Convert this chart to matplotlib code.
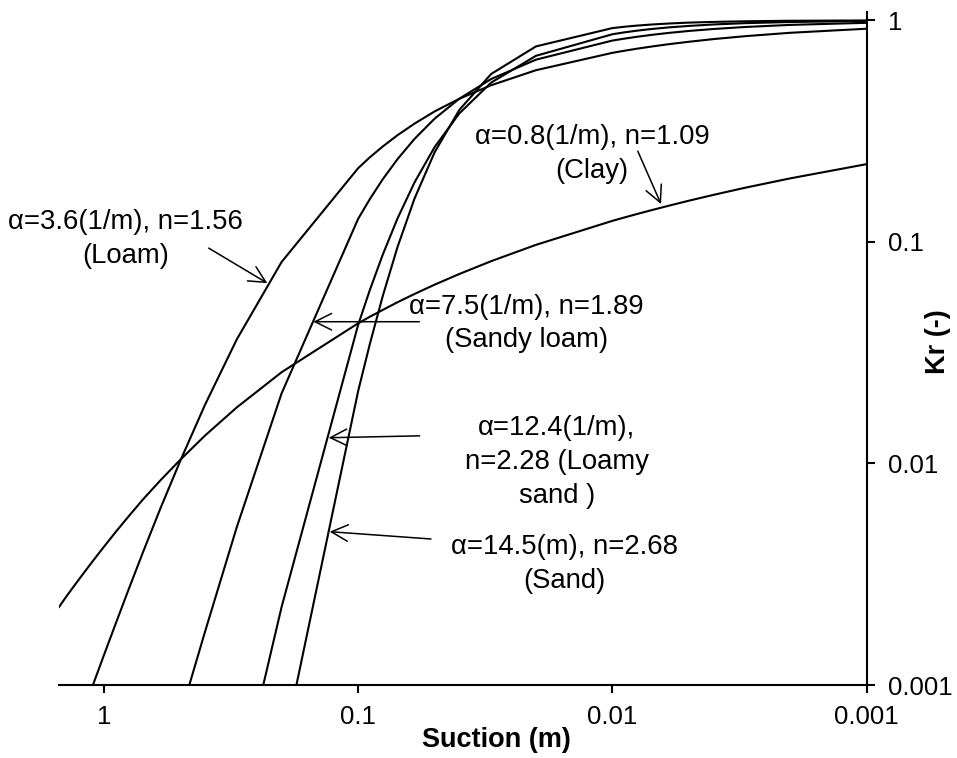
import matplotlib
matplotlib.use("Agg")
import matplotlib.pyplot as plt
from matplotlib.ticker import FixedLocator, NullLocator, FixedFormatter

plt.rcParams['font.family'] = ['Liberation Sans', 'DejaVu Sans']

# ---- data (suction in m, relative permeability Kr) ----
clay_s = [1.5, 1.4, 1.3, 1.2, 1.1, 1.0, 0.9, 0.8, 0.7, 0.6, 0.5, 0.4, 0.3, 0.2, 0.1,
          0.09, 0.08, 0.07, 0.06, 0.05, 0.04, 0.03, 0.02, 0.01,
          0.009, 0.008, 0.007, 0.006, 0.005, 0.004, 0.003, 0.002, 0.001]
clay_kr = [0.00225, 0.00252, 0.00283, 0.0032, 0.00365, 0.0042, 0.00489, 0.00576, 0.0069,
           0.00837, 0.0104, 0.01336, 0.0179, 0.0258, 0.0429,
           0.0459, 0.0493, 0.0534, 0.0582, 0.0641, 0.0716, 0.0818, 0.0969, 0.1244,
           0.1287, 0.1336, 0.1391, 0.1456, 0.1534, 0.1630, 0.1756, 0.1934, 0.2243]

loam_s = [1.2, 1.0, 0.9, 0.8, 0.7, 0.6, 0.5, 0.4, 0.3, 0.2, 0.1,
          0.09, 0.08, 0.07, 0.06, 0.05, 0.04, 0.03, 0.02, 0.01,
          0.009, 0.008, 0.007, 0.006, 0.005, 0.004, 0.003, 0.002, 0.001]
loam_kr = [0.00077, 0.00136, 0.00188, 0.00269, 0.0040, 0.00624, 0.0103, 0.0184, 0.0363,
           0.0811, 0.215,
           0.2406, 0.2694, 0.303, 0.3417, 0.388, 0.4423, 0.509, 0.595, 0.713,
           0.7282, 0.7443, 0.7615, 0.7800, 0.800, 0.8225, 0.8478, 0.878, 0.916]

sandyloam_s = [0.5, 0.4, 0.3, 0.2, 0.1, 0.09, 0.08, 0.07, 0.06, 0.05, 0.04, 0.03, 0.02, 0.01,
               0.009, 0.008, 0.007, 0.006, 0.005, 0.004, 0.003, 0.002, 0.001]
sandyloam_kr = [0.00073, 0.00174, 0.00516, 0.0207, 0.127,
                0.1558, 0.1917, 0.2363, 0.2916, 0.360, 0.4426, 0.543, 0.664, 0.810,
                0.8259, 0.8425, 0.8595, 0.8770, 0.895, 0.9134, 0.9327, 0.953, 0.974]

loamysand_s = [0.3, 0.2, 0.1, 0.09, 0.08, 0.07, 0.06, 0.05, 0.04, 0.03, 0.02, 0.01,
               0.009, 0.008, 0.007, 0.006, 0.005, 0.004, 0.003, 0.002, 0.001]
loamysand_kr = [0.00031, 0.00225, 0.0422, 0.0605, 0.0876, 0.1276, 0.1856, 0.268, 0.380,
                0.523, 0.691, 0.865,
                0.8816, 0.8978, 0.9135, 0.9288, 0.943, 0.9574, 0.9705, 0.982, 0.993]

sand_s = [0.2, 0.1, 0.09, 0.08, 0.07, 0.06, 0.05, 0.04, 0.03, 0.02, 0.01,
          0.009, 0.008, 0.007, 0.006, 0.005, 0.004, 0.003, 0.002, 0.001]
sand_kr = [0.00048, 0.0212, 0.0345, 0.0570, 0.0948, 0.157, 0.254, 0.394, 0.572, 0.762,
           0.922, 0.9346, 0.9463, 0.9570, 0.9668, 0.976, 0.9832, 0.9896, 0.995, 0.998]

x_ticks = [1, 0.1, 0.01, 0.001]
x_tick_labels = ["1", "0.1", "0.01", "0.001"]
y_ticks = [0.001, 0.01, 0.1, 1]
y_tick_labels = ["0.001", "0.01", "0.1", "1"]

labels = [
    "α=3.6(1/m), n=1.56\n(Loam)",
    "α=0.8(1/m), n=1.09\n(Clay)",
    "α=7.5(1/m), n=1.89\n(Sandy loam)",
    "α=12.4(1/m),\nn=2.28 (Loamy\nsand )",
    "α=14.5(m), n=2.68\n(Sand)",
]

# ---- figure ----
fig = plt.figure(figsize=(9.57, 7.58), dpi=100)
ax = fig.add_axes([0.0617, 0.0963, 0.8440, 0.8879])

for s, k in [(clay_s, clay_kr), (loam_s, loam_kr), (sandyloam_s, sandyloam_kr),
             (loamysand_s, loamysand_kr), (sand_s, sand_kr)]:
    ax.plot(s, k, color='black', lw=1.5, solid_joinstyle='round')

ax.set_xscale('log')
ax.set_yscale('log')
ax.set_xlim(1.5, 0.001)
ax.set_ylim(0.001, 1.09)

ax.xaxis.set_major_locator(FixedLocator(x_ticks))
ax.xaxis.set_major_formatter(FixedFormatter(x_tick_labels))
ax.xaxis.set_minor_locator(NullLocator())
ax.yaxis.set_major_locator(FixedLocator(y_ticks))
ax.yaxis.set_major_formatter(FixedFormatter(y_tick_labels))
ax.yaxis.set_minor_locator(NullLocator())

ax.yaxis.tick_right()
ax.yaxis.set_label_position('right')
for sp in ['top', 'left']:
    ax.spines[sp].set_visible(False)
for sp in ['bottom', 'right']:
    ax.spines[sp].set_linewidth(1.5)

ax.tick_params(axis='x', direction='out', length=5.5, width=1.5, labelsize=18.5, pad=9)
ax.tick_params(axis='y', direction='out', length=5.5, width=1.5, labelsize=18.5, pad=10)

ax.set_xlabel("Suction (m)", fontsize=19.5, fontweight='bold')
ax.xaxis.set_label_coords(0.541, -0.082)
ax.xaxis.label.set_va('center')
ax.set_ylabel("Kr (-)", fontsize=19.5, fontweight='bold', rotation=90)
ax.yaxis.set_label_coords(1.088, 0.51)
ax.yaxis.label.set_va('center')
ax.yaxis.label.set_ha('center')

# ---- annotations: (text position, arrow start, arrow tip) in data coords ----
text_pos = [(0.822, 0.1028), (0.01203, 0.2486), (0.02183, 0.0428), (0.01654, 0.01015),
            (0.01548, 0.003517)]
arrow_start = [(0.387, 0.0937), (0.00795, 0.2566), (0.0575, 0.0436), (0.0573, 0.01332),
               (0.0517, 0.00456)]
arrow_tip = [(0.2275, 0.0651), (0.00644, 0.148), (0.150, 0.0436), (0.1306, 0.01306),
             (0.1294, 0.00492)]

for lab, tp, st, tip in zip(labels, text_pos, arrow_start, arrow_tip):
    ax.text(tp[0], tp[1], lab, ha='center', va='center', fontsize=19.8,
            multialignment='center', linespacing=1.38)
    ax.annotate('', xy=tip, xytext=st,
                arrowprops=dict(arrowstyle='->,head_length=0.7,head_width=0.35',
                                lw=1.1, color='black', shrinkA=0, shrinkB=0,
                                mutation_scale=17))

fig.savefig("out.png", dpi=100)
